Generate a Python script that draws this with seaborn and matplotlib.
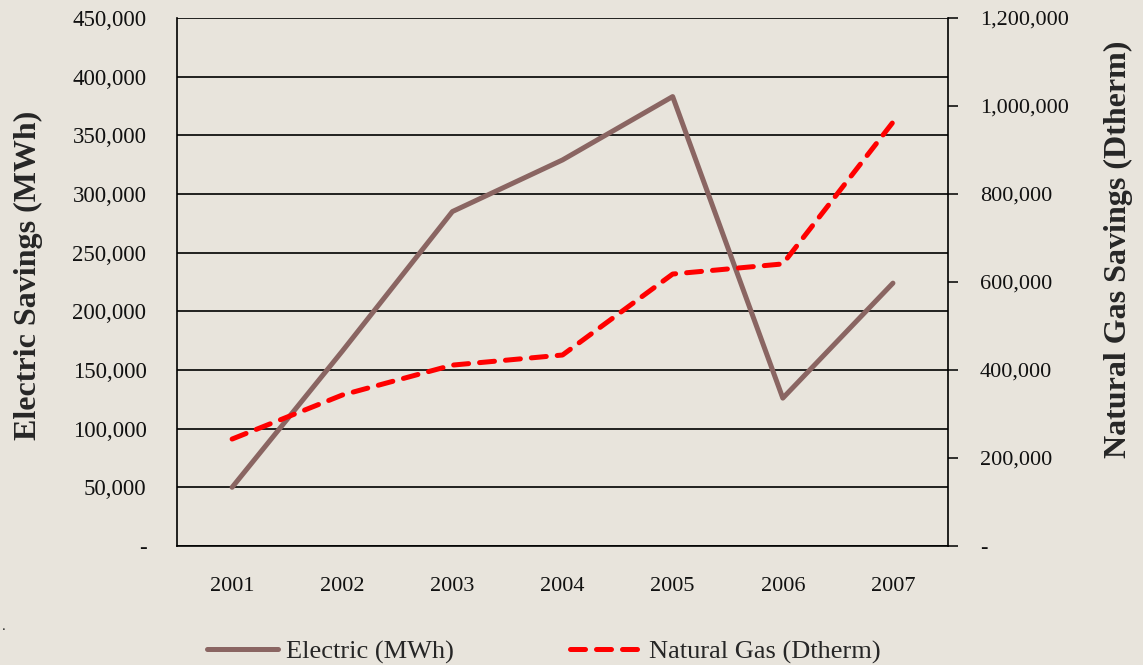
import matplotlib
matplotlib.use('Agg')
import matplotlib.pyplot as plt
import matplotlib.ticker as mticker
import pandas as pd
import seaborn as sns

# 数据
years = ['2001', '2002', '2003', '2004', '2005', '2006', '2007']
electric_mwh = [50000, 166000, 285000, 329000, 383000, 126000, 224000]
gas_dtherm = [243000, 343000, 411000, 434000, 618000, 641000, 963000]

bg = '#E8E4DC'
brown = '#8A6562'
red = '#FF0000'

sns.set_theme(style='white')
plt.rcParams['font.family'] = ['Liberation Serif', 'DejaVu Serif']

df = pd.DataFrame({'year': years, 'electric': electric_mwh, 'gas': gas_dtherm})


def fmt(v, pos):
    if abs(v) < 1e-9:
        return '-'
    return f'{v:,.0f}'


fig = plt.figure(figsize=(11.43, 6.65), dpi=100, facecolor=bg)
ax = fig.add_axes([0.1549, 0.179, 0.6745, 0.794])
ax.set_facecolor(bg)

sns.lineplot(data=df, x='year', y='electric', ax=ax, color=brown,
             linewidth=3.6, sort=False, label='Electric (MWh)', legend=False)
ax.set_ylim(0, 450000)
ax.set_yticks(range(0, 450001, 50000))
ax.yaxis.set_major_formatter(mticker.FuncFormatter(fmt))
ax.set_xlim(-0.5, len(years) - 0.5)
ax.grid(axis='y', color='black', linewidth=1.2)
ax.set_axisbelow(True)
ax.tick_params(axis='y', length=0, pad=22, labelsize=16.5, colors='#111111')
ax.tick_params(axis='x', length=0, pad=22, labelsize=16, colors='#111111')
ax.set_xlabel('')
ax.set_ylabel('Electric Savings (MWh)', fontsize=23, fontweight='bold')
ax.yaxis.set_label_coords(-0.174, 0.513)
for s in ['left', 'bottom']:
    ax.spines[s].set_color('black')
    ax.spines[s].set_linewidth(1.2)
ax.spines['top'].set_visible(False)
ax.spines['right'].set_visible(False)

ax2 = ax.twinx()
sns.lineplot(data=df, x='year', y='gas', ax=ax2, color=red, linewidth=3.6,
             linestyle=(0, (3, 2.2)), sort=False, label='Natural Gas (Dtherm)',
             legend=False)
for ln in ax2.get_lines():
    ln.set_dash_capstyle('round')
ax2.set_ylim(0, 1200000)
ax2.set_yticks(range(0, 1200001, 200000))
ax2.yaxis.set_major_formatter(mticker.FuncFormatter(fmt))
ax2.tick_params(axis='y', length=7, width=1.2, direction='out', pad=16,
                labelsize=16, colors='#111111')
ax2.set_ylabel('Natural Gas Savings (Dtherm)', fontsize=23, fontweight='bold')
ax2.yaxis.set_label_coords(1.202, 0.561)
ax2.spines['right'].set_color('black')
ax2.spines['right'].set_linewidth(1.2)
for s in ['left', 'bottom', 'top']:
    ax2.spines[s].set_visible(False)

h1, l1 = ax.get_legend_handles_labels()
h2, l2 = ax2.get_legend_handles_labels()
fig.legend(h1 + h2, l1 + l2, loc='center', ncol=2, frameon=False,
           bbox_to_anchor=(0.476, 0.02), fontsize=19, handlelength=2.7,
           handletextpad=0.3, columnspacing=4.4)

fig.text(0.002, 0.052, '.', fontsize=11)

fig.savefig('out.png', dpi=100, facecolor=bg)
